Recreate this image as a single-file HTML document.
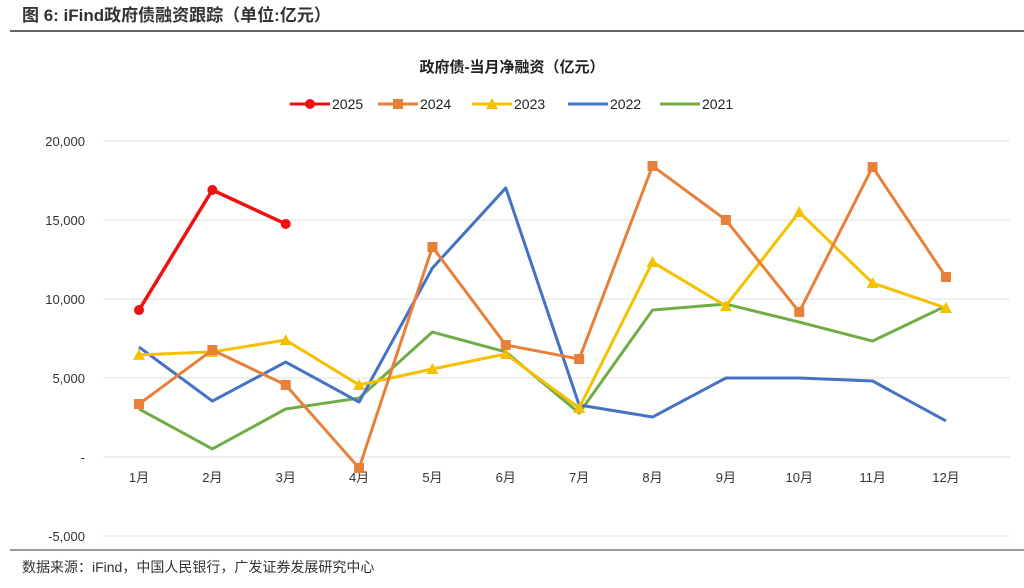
<!DOCTYPE html>
<html><head><meta charset="utf-8"><style>
body{margin:0;background:#fff;width:1024px;height:583px;overflow:hidden;font-family:"Liberation Sans","Noto Sans CJK SC",sans-serif;}
</style></head><body>
<svg id="c" width="1024" height="583" xmlns="http://www.w3.org/2000/svg">
<text x="22" y="21" font-size="17" font-weight="bold" fill="#333" font-family="Liberation Sans,Noto Sans CJK SC,sans-serif">图  6:  iFind政府债融资跟踪（单位:亿元）</text>
<line x1="10" y1="31" x2="1024" y2="31" stroke="#333" stroke-width="1.5"/>
<text x="512" y="72" font-size="15" font-weight="bold" text-anchor="middle" fill="#222" font-family="Liberation Sans,Noto Sans CJK SC,sans-serif">政府债-当月净融资（亿元）</text>
<line x1="10" y1="550" x2="1024" y2="550" stroke="#333" stroke-width="1"/>
<text x="22" y="572" font-size="14" fill="#333" font-family="Liberation Sans,Noto Sans CJK SC,sans-serif">数据来源：iFind，中国人民银行，广发证券发展研究中心</text>
<g id="plot"></g>
</svg>
<script>
const months=["1月","2月","3月","4月","5月","6月","7月","8月","9月","10月","11月","12月"];
const yTicks=[20000,15000,10000,5000,0,-5000];
const yTickLabels=["20,000","15,000","10,000","5,000","-","-5,000"];
const seriesNames=["2025","2024","2023","2022","2021"];
const s2025=[9300,16900,14750];
const s2024=[3350,6770,4560,-700,13290,7090,6200,18420,15000,9180,18350,11390];
const s2023=[6460,6650,7400,4560,5570,6520,3100,12340,9560,15500,11010,9430];
const s2022=[6960,3540,6010,3480,11960,17030,3290,2530,5000,5000,4810,2280];
const s2021=[3040,510,3040,3730,7910,6650,2780,9300,9680,8540,7340,9560];
const colors=["#ee1111","#e8803a","#f5c000","#4472c4","#70ad47"];
const markers=["circle","square","triangle","none","none"];
const allSeries=[s2025,s2024,s2023,s2022,s2021];
const NS="http://www.w3.org/2000/svg";
const g=document.getElementById('plot');
function y(v){return 457-v*79/5000;}
function x(i){return 139+i*73.36;}
function mk(t,a){const e=document.createElementNS(NS,t);for(const k in a)e.setAttribute(k,a[k]);g.appendChild(e);return e;}
yTicks.forEach((v,i)=>{
 const l=mk('line',{x1:103,y1:y(v),x2:1010,y2:y(v),stroke:'#e0e0e0','stroke-width':1});
 
 
 const t=mk('text',{x:85,y:y(v)+5,'font-size':13,'text-anchor':'end',fill:'#333'});
 t.textContent=yTickLabels[i];
 
 
});
months.forEach((m,i)=>{
 const t=mk('text',{x:x(i),y:482,'font-size':13,'text-anchor':'middle',fill:'#333','font-family':'Liberation Sans,Noto Sans CJK SC,sans-serif'});
 t.textContent=m;
 
 
});
function marker(type,cx,cy,c){
 let e=null;
 if(type==='circle')e=mk('circle',{cx:cx,cy:cy,r:5,fill:c});
 else if(type==='square')e=mk('rect',{x:cx-5,y:cy-5,width:10,height:10,fill:c});
 else if(type==='triangle')e=mk('polygon',{points:`${cx},${cy-6} ${cx+6},${cy+5} ${cx-6},${cy+5}`,fill:c});
 return e;
}
for(let s=allSeries.length-1;s>=0;s--){
 const d=allSeries[s];
 const p=mk('polyline',{points:d.map((v,i)=>x(i)+','+y(v)).join(' '),fill:'none',stroke:colors[s],'stroke-width':s===0?3.5:3,'stroke-linejoin':'round'});
 
 
 d.forEach((v,i)=>{const e=marker(markers[s],x(i),y(v),colors[s]);if(e){
  
  }});
}
const lx=[290,378,472,568,660];
seriesNames.forEach((n,i)=>{
 const l=mk('line',{x1:lx[i],y1:104,x2:lx[i]+40,y2:104,stroke:colors[i],'stroke-width':3});
 
 
 const m=marker(markers[i],lx[i]+20,104,colors[i]);
 if(m){
 }
 const t=mk('text',{x:lx[i]+42,y:109,'font-size':14,fill:'#222'});
 t.textContent=n;
 
 
});
</script>
</body></html>
